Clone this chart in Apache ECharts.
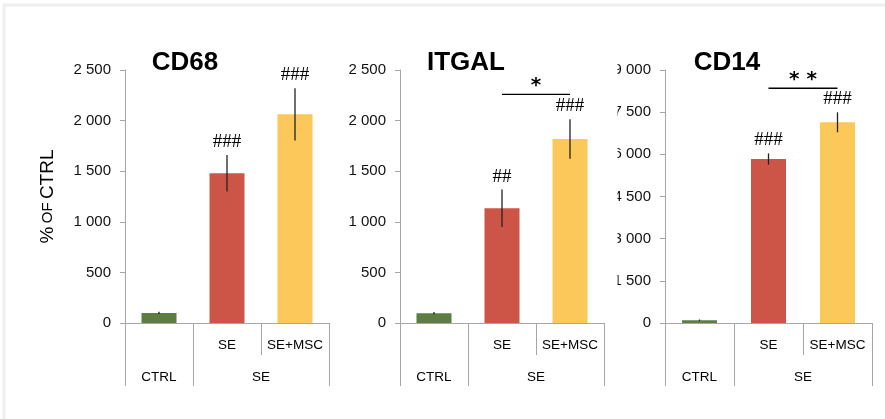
<!DOCTYPE html>
<html><head><meta charset="utf-8">
<script src="https://cdn.jsdelivr.net/npm/echarts@6/dist/echarts.min.js"></script>
<style>html,body{margin:0;padding:0;background:#fff}#c{width:885px;height:419px}</style>
</head><body><div id="c"></div>
<script>
// ---- data ----
const panels = ['CD68', 'ITGAL', 'CD14'];
const categories = ['CTRL', 'SE', 'SE+MSC'];
const groupLabels = ['CTRL', 'SE'];
const cd68Values = [100, 1480, 2062];
const cd68Errors = [12, 180, 258];
const itgalValues = [96, 1133, 1818];
const itgalErrors = [12, 185, 195];
const cd14Values = [100, 5834, 7140];
const cd14Errors = [25, 200, 355];
const cd68Marks = ['', '###', '###'];
const itgalMarks = ['', '##', '###'];
const cd14Marks = ['', '###', '###'];
const sigLabels = ['', '*', '* *'];
const sigLevels = [null, 2260, 8350];
const yMax = [2500, 2500, 9000];
const yStep = [500, 500, 1500];

const values = [cd68Values, itgalValues, cd14Values];
const errors = [cd68Errors, itgalErrors, cd14Errors];
const marks = [cd68Marks, itgalMarks, cd14Marks];

// ---- layout / style ----
const gridLeft = [125, 400, 665];
const gridWidth = [204, 204, 207];
const titleX = [180, 461, 722];
const barColors = ['#5e7d43', '#cd5548', '#fcc859'];
const axisGrey = '#a6a6a6';
const sans = 'Liberation Sans, Arial, sans-serif';

const fmt = v => {
  const s = String(v);
  return s.length > 3 ? s.slice(0, s.length - 3) + ' ' + s.slice(-3) : s;
};

const grids = [], xAxes = [], yAxes = [], series = [], titles = [];
for (let i = 0; i < 3; i++) {
  grids.push({ left: gridLeft[i], width: gridWidth[i], top: 70, height: 253 });
  titles.push({
    text: panels[i], left: titleX[i], top: 45, textAlign: 'center',
    textStyle: { fontFamily: sans, fontWeight: 'bold', fontSize: 26, color: '#000' }
  });
  xAxes.push({
    type: 'category', gridIndex: i, data: categories, position: 'bottom',
    axisLine: { lineStyle: { color: axisGrey, width: 1 } },
    axisTick: { show: true, length: 32, lineStyle: { color: axisGrey } },
    axisLabel: { interval: 0, formatter: v => (v === categories[0] ? '' : v), margin: 15, color: '#000', fontSize: 13.5, fontFamily: sans }
  });
  xAxes.push({
    type: 'value', gridIndex: i, position: 'bottom', min: 0, max: 3,
    axisLine: { show: false }, splitLine: { show: false },
    axisTick: { show: true, customValues: [0, 1, 3], length: 63, lineStyle: { color: axisGrey } },
    axisLabel: { customValues: [0.5, 2], formatter: v => (v < 1 ? groupLabels[0] : groupLabels[1]), margin: 47, color: '#000', fontSize: 13.5, fontFamily: sans }
  });
  const y = {
    type: 'value', gridIndex: i, min: 0, max: yMax[i], interval: yStep[i],
    axisLine: { show: true, lineStyle: { color: axisGrey } },
    axisTick: { show: true, length: 5, lineStyle: { color: axisGrey } },
    splitLine: { show: false },
    axisLabel: { formatter: fmt, margin: 14, color: '#111', fontSize: 15, fontFamily: sans }
  };
  if (i === 0) {
    y.name = '{a|%} {b|OF} {a|CTRL}';
    y.nameLocation = 'middle';
    y.nameGap = 68;
    y.nameTextStyle = { rich: { a: { fontSize: 19, fontFamily: sans, color: '#000' }, b: { fontSize: 15, fontFamily: sans, color: '#000' } } };
  }
  yAxes.push(y);
  series.push({
    type: 'bar', xAxisIndex: i * 2, yAxisIndex: i, barWidth: 35,
    data: values[i].map((v, k) => ({ value: v, itemStyle: { color: barColors[k] } }))
  });
  series.push({
    type: 'custom', xAxisIndex: i * 2, yAxisIndex: i, z: 5,
    data: values[i].map((v, k) => [k, v, errors[i][k], k]),
    renderItem: (params, api) => {
      const k = api.value(0), v = api.value(1), e = api.value(2);
      const p1 = api.coord([k, v + e]);
      const p2 = api.coord([k, v - e]);
      const m = marks[i][api.value(3)];
      return {
        type: 'group', children: [
          { type: 'line', shape: { x1: p1[0], y1: p1[1], x2: p2[0], y2: p2[1] }, style: { stroke: '#222', lineWidth: 1.3 } },
          { type: 'text', x: p1[0], y: p1[1] - 13, style: { text: m, fontFamily: 'Liberation Serif, serif', fontSize: 19, fill: '#000', align: 'center', verticalAlign: 'middle' } }
        ]
      };
    }
  });
  if (sigLevels[i] !== null) {
    series.push({
      type: 'custom', xAxisIndex: i * 2, yAxisIndex: i, z: 5,
      data: [[1, sigLevels[i], 2]],
      renderItem: (params, api) => {
        const a = api.coord([api.value(0), api.value(1)]);
        const b = api.coord([api.value(2), api.value(1)]);
        return {
          type: 'group', children: [
            { type: 'line', shape: { x1: a[0], y1: a[1], x2: b[0], y2: b[1] }, style: { stroke: '#000', lineWidth: 1.3 } },
            { type: 'text', x: (a[0] + b[0]) / 2, y: a[1] + 2, style: { text: sigLabels[i], fontFamily: 'DejaVu Sans, sans-serif', fontWeight: 'bold', fontSize: 20, fill: '#000', align: 'center', verticalAlign: 'bottom' } }
          ]
        };
      }
    });
  }
}

const chart = echarts.init(document.getElementById('c'), null, { renderer: 'canvas' });
chart.setOption({
  backgroundColor: '#fff',
  animation: false,
  title: titles,
  grid: grids,
  xAxis: xAxes,
  yAxis: yAxes,
  series: series,
  graphic: [
    { type: 'rect', z: 100, shape: { x: 4, y: 5, width: 1000, height: 1000 }, style: { fill: 'none', stroke: '#efefef', lineWidth: 3 } },
    { type: 'rect', z: 100, shape: { x: 604, y: 55, width: 13.5, height: 250 }, style: { fill: '#fff' } }
  ]
});
</script>
</body></html>
